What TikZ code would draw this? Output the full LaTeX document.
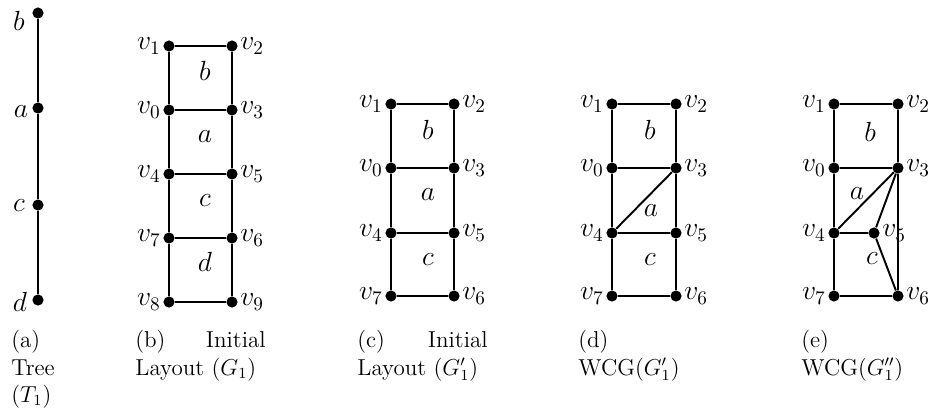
\documentclass[tikz,border=0pt]{standalone}
\usetikzlibrary{positioning}
\begin{document}
\begin{tikzpicture}[x=0.52pt,y=-0.52pt,
  vtx/.style={circle,fill=black,inner sep=0pt,minimum size=5.8pt},
  edg/.style={line width=1pt},
  vl/.style={font=\Large,inner sep=1pt},
  tl/.style={font=\Large,inner sep=0pt},
  fl/.style={font=\Large,inner sep=0pt,anchor=base},
  captxt/.style={font=\large,inner sep=0pt,anchor=base west},
  captxtr/.style={font=\large,inner sep=0pt,anchor=base east}]
\useasboundingbox (0,0) rectangle (932,413);
% (a) tree
\node[vtx] (tb) at (38,13) {};
\node[vtx] (ta) at (38,108) {};
\node[vtx] (tc) at (38,205) {};
\node[vtx] (td) at (38,300) {};
\node[tl] (tbl) at (19,21) {$b$};
\node[tl] (tal) at (21,112) {$a$};
\node[tl] (tcl) at (19,206) {$c$};
\node[tl] (tdl) at (20,302) {$d$};
\draw[edg] (tb) -- (ta) -- (tc) -- (td);
\node[captxt] (ca1) at (11,347) {(a)};
\node[captxt] (ca2) at (11,375) {Tree};
\node[captxt] (ca3) at (11,402) {$(T_1)$};
% (b)
\node[vtx,label={[vl]left:$v_1$}] (b1) at (169,46) {};
\node[vtx,label={[vl]right:$v_2$}] (b2) at (232,46) {};
\node[vtx,label={[vl]left:$v_0$}] (b0) at (169,110) {};
\node[vtx,label={[vl]right:$v_3$}] (b3) at (232,110) {};
\node[vtx,label={[vl]left:$v_4$}] (b4) at (169,174) {};
\node[vtx,label={[vl]right:$v_5$}] (b5) at (232,174) {};
\node[vtx,label={[vl]left:$v_7$}] (b7) at (169,238) {};
\node[vtx,label={[vl]right:$v_6$}] (b6) at (232,238) {};
\node[vtx,label={[vl]left:$v_8$}] (b8) at (169,302) {};
\node[vtx,label={[vl]right:$v_9$}] (b9) at (232,302) {};
\draw[edg] (b1) -- (b2) -- (b3) -- (b5) -- (b6) -- (b9) -- (b8) -- (b7) -- (b4) -- (b0) -- (b1);
\draw[edg] (b0) -- (b3) (b4) -- (b5) (b7) -- (b6);
\node[fl] (bfb) at (205,80) {$b$};
\node[fl] (bfa) at (205,142) {$a$};
\node[fl] (bfc) at (205,206) {$c$};
\node[fl] (bfd) at (205,271) {$d$};
\node[captxt] (cb1) at (135,347) {(b)};
\node[captxtr] (cb1r) at (266,347) {Initial};
\node[captxt] (cb2) at (135,375) {Layout $(G_1)$};
% (c)
\node[vtx,label={[vl]left:$v_1$}] (c1) at (391,104) {};
\node[vtx,label={[vl]right:$v_2$}] (c2) at (454,104) {};
\node[vtx,label={[vl]left:$v_0$}] (c0) at (391,168) {};
\node[vtx,label={[vl]right:$v_3$}] (c3) at (454,168) {};
\node[vtx,label={[vl]left:$v_4$}] (c4) at (391,233) {};
\node[vtx,label={[vl]right:$v_5$}] (c5) at (454,233) {};
\node[vtx,label={[vl]left:$v_7$}] (c7) at (391,296) {};
\node[vtx,label={[vl]right:$v_6$}] (c6) at (454,296) {};
\draw[edg] (c1) -- (c2) -- (c3) -- (c5) -- (c6) -- (c7) -- (c4) -- (c0) -- (c1);
\draw[edg] (c0) -- (c3) (c4) -- (c5);
\node[fl] (cfb) at (428,139) {$b$};
\node[fl] (cfa) at (428,200) {$a$};
\node[fl] (cfc) at (428,265) {$c$};
\node[captxt] (cc1) at (357,347) {(c)};
\node[captxtr] (cc1r) at (488,347) {Initial};
\node[captxt] (cc2) at (357,375) {Layout $(G'_1)$};
% (d)
\node[vtx,label={[vl]left:$v_1$}] (d1) at (612,104) {};
\node[vtx,label={[vl]right:$v_2$}] (d2) at (676,104) {};
\node[vtx,label={[vl]left:$v_0$}] (d0) at (612,168) {};
\node[vtx,label={[vl]right:$v_3$}] (d3) at (676,168) {};
\node[vtx,label={[vl]left:$v_4$}] (d4) at (612,233) {};
\node[vtx,label={[vl]right:$v_5$}] (d5) at (676,233) {};
\node[vtx,label={[vl]left:$v_7$}] (d7) at (612,296) {};
\node[vtx,label={[vl]right:$v_6$}] (d6) at (676,296) {};
\draw[edg] (d1) -- (d2) -- (d3) -- (d5) -- (d6) -- (d7) -- (d4) -- (d0) -- (d1);
\draw[edg] (d0) -- (d3) (d4) -- (d5) (d4) -- (d3);
\node[fl] (dfb) at (650,139) {$b$};
\node[fl] (dfa) at (651,216) {$a$};
\node[fl] (dfc) at (650,265) {$c$};
\node[captxt] (cd1) at (578,347) {(d)};
\node[captxt] (cd2) at (578,375) {WCG$(G'_1)$};
% (e)
\node[vtx,label={[vl]left:$v_1$}] (e1) at (834,104) {};
\node[vtx,label={[vl]right:$v_2$}] (e2) at (898,104) {};
\node[vtx,label={[vl]left:$v_0$}] (e0) at (834,168) {};
\node[vtx,label={[vl]right:$v_3$}] (e3) at (898,168) {};
\node[vtx,label={[vl]left:$v_4$}] (e4) at (834,233) {};
\node[vtx,label={[vl]right:$v_5$}] (e5) at (874,233) {};
\node[vtx,label={[vl]left:$v_7$}] (e7) at (834,296) {};
\node[vtx,label={[vl]right:$v_6$}] (e6) at (898,296) {};
\draw[edg] (e1) -- (e2) -- (e3) -- (e6) -- (e7) -- (e4) -- (e0) -- (e1);
\draw[edg] (e0) -- (e3) (e4) -- (e5) (e4) -- (e3) (e3) -- (e5) -- (e6);
\node[fl] (efb) at (870,141) {$b$};
\node[fl] (efa) at (857,199) {$a$};
\node[fl] (efc) at (872,264) {$c$};
\node[captxt] (ce1) at (801,347) {(e)};
\node[captxt] (ce2) at (801,375) {WCG$(G''_1)$};
\end{tikzpicture}
\end{document}
